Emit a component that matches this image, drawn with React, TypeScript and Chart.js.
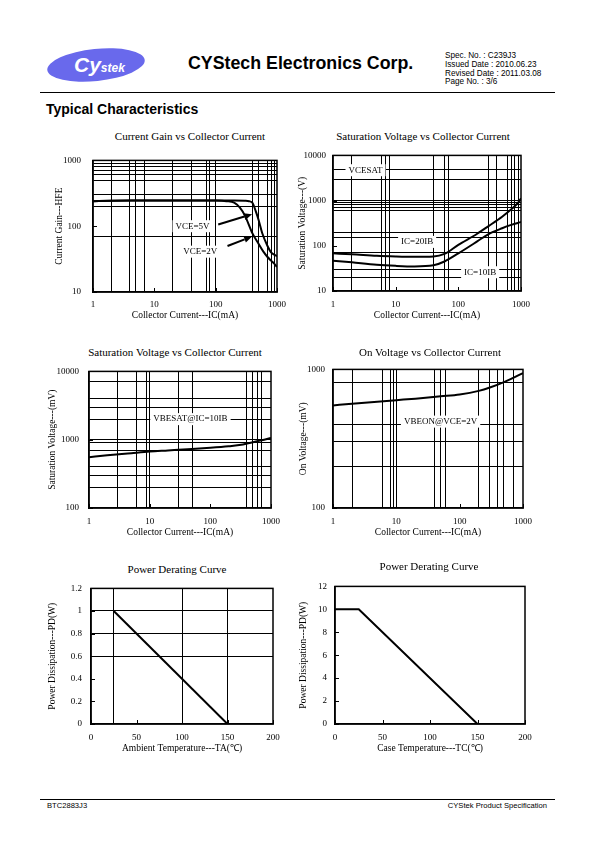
import React, { useEffect, useRef } from "react";
import { Chart, registerables } from "chart.js";

Chart.register(...registerables);

const SERIF = "'Liberation Serif', 'Times New Roman', serif";
const SANS = "'Liberation Sans', Arial, sans-serif";

// ---------------- data ----------------
// Chart 1: Current Gain vs Collector Current
const hfeIcVce5 = [1, 2, 5, 10, 20, 50, 100, 200, 300, 350, 400, 450, 500, 575, 700, 800, 900, 1000];
const hfeVce5 = [240, 243, 245, 246, 246, 246, 246, 246, 244, 240, 225, 169, 125, 78, 50, 40, 37, 35];
const hfeIcVce2 = [1, 2, 5, 10, 20, 50, 100, 150, 200, 250, 300, 400, 500, 600, 700, 800, 900, 1000];
const hfeVce2 = [240, 243, 245, 246, 246, 246, 245, 240, 228, 190, 145, 77, 54, 41, 34, 30, 27, 24];

// Chart 2: Saturation Voltage (VCESAT) vs Collector Current
const satIc20 = [1, 2, 5, 10, 20, 40, 60, 100, 200, 300, 500, 700, 800, 900, 1000];
const vceSat20 = [68, 65, 60, 58, 57, 58, 66, 105, 185, 270, 440, 640, 760, 900, 1130];
const satIc10 = [1, 2, 5, 10, 20, 40, 60, 100, 200, 300, 500, 700, 1000];
const vceSat10 = [47, 43, 38, 36, 35, 37, 45, 68, 125, 180, 245, 290, 335];

// Chart 3: VBESAT vs Collector Current
const vbeSatIc = [1, 2, 5, 10, 20, 50, 100, 200, 300, 500, 700, 1000];
const vbeSat = [555, 590, 635, 670, 695, 730, 760, 800, 835, 920, 980, 1060];

// Chart 4: VBEON vs Collector Current
const vbeOnIc = [1, 2, 5, 10, 20, 50, 100, 200, 300, 500, 700, 1000];
const vbeOn = [550, 565, 585, 600, 615, 640, 660, 700, 740, 810, 870, 940];

// Chart 5: Power derating (ambient)
const taTemp = [25, 150];
const taPower = [1, 0];

// Chart 6: Power derating (case)
const tcTemp = [0, 25, 150];
const tcPower = [10, 10, 0];

// tick labels
const icLabels = [1, 10, 100, 1000];
const hfeLabels = [10, 100, 1000];
const vceSatLabels = [10, 100, 1000, 10000];
const vbeSatLabels = [100, 1000, 10000];
const vbeOnLabels = [100, 1000];
const tempLabels = [0, 50, 100, 150, 200];
const paLabels = [0, 0.2, 0.4, 0.6, 0.8, 1, 1.2];
const pcLabels = [0, 2, 4, 6, 8, 10, 12];

// grid line positions
const grid1x = [2, 4, 5, 7, 20, 40, 70, 80, 100, 400, 500, 700, 800, 900];
const grid1y = [900, 800, 700, 600, 500, 300, 200, 70];
const grid2x = [2, 6, 7, 8, 40, 60, 70, 300, 400, 600, 700, 800, 900];
const grid2y = [5000, 3000, 1000, 900, 800, 700, 600, 200, 150, 70, 30, 20];
const grid3x = [3, 6, 9, 10, 30, 50, 400, 500, 600, 700];
const grid3y = [7000, 4000, 3000, 2000, 1000, 900, 700, 400, 300, 200];
const grid4x = [2, 6, 8, 9, 10, 40, 50, 60, 200, 300, 400, 500, 700];
const grid4y = [800, 400, 300, 200];
const grid5x = [25, 100, 150];
const grid5y = [1, 0.8, 0.6];
const noGrid: number[] = [];

// ---------------- types ----------------
type Box = { L: number; T: number; R: number; B: number };
type AxisSpec = {
  type: "logarithmic" | "linear";
  min: number;
  max: number;
  labels: number[];
  grid: number[];
  title: string;
};
type Note = { x: number; y: number; text: string };
type Arrow = { x1: number; y1: number; x2: number; y2: number };
type Series = { xs: number[]; ys: number[]; smooth: boolean };
type ChartProps = {
  box: Box;
  title: string;
  titleX: number;
  titleY: number;
  yTitleX: number;
  xTitleY: number;
  yTickRight: number;
  xTickTop: number;
  x: AxisSpec;
  y: AxisSpec;
  series: Series[];
  notes?: Note[];
  arrows?: Arrow[];
};

const AXIS_W = 50;
const AXIS_H = 35;
const PAD_T = 10;
const PAD_R = 15;
const TICK_FONT = 9;
const AXIS_TITLE_FONT = 9.5;
const CHART_TITLE_FONT = 11;

const near = (arr: number[], v: number) =>
  arr.some((a) => Math.abs(a - v) <= Math.abs(a) * 1e-6 + 1e-9);

function buildAxis(spec: AxisSpec, pos: "left" | "bottom", tickPad: number, titleOffset: number) {
  const lh = AXIS_TITLE_FONT * 1.2;
  const all = Array.from(new Set([...spec.labels, ...spec.grid, spec.min, spec.max])).sort(
    (a, b) => a - b
  );
  return {
    type: spec.type,
    position: pos,
    min: spec.min,
    max: spec.max,
    afterBuildTicks: (s: any) => {
      s.ticks = all.map((v) => ({ value: v }));
    },
    afterFit: (s: any) => {
      if (pos === "left") s.width = AXIS_W;
      else s.height = AXIS_H;
    },
    ticks: {
      autoSkip: false,
      maxRotation: 0,
      minRotation: 0,
      padding: tickPad,
      color: "#000",
      font: { family: SERIF, size: TICK_FONT },
      callback: (v: any) => (near(spec.labels, Number(v)) ? String(v) : ""),
    },
    grid: {
      color: (ctx: any) =>
        ctx.tick && near(spec.grid, ctx.tick.value) ? "#000" : "rgba(0,0,0,0)",
      lineWidth: 1,
      drawTicks: false,
    },
    border: { display: true, color: "#000", width: 1.5 },
    title: {
      display: true,
      text: spec.title,
      color: "#000",
      font: { family: SERIF, size: AXIS_TITLE_FONT },
      padding:
        pos === "left"
          ? { top: titleOffset - lh / 2, bottom: 0 }
          : { top: 0, bottom: titleOffset - lh / 2 },
    },
  };
}

function ChartBox(p: ChartProps) {
  const ref = useRef<HTMLCanvasElement>(null);
  const { L, T, R, B } = p.box;
  const cx = L - AXIS_W;
  const cy = T - PAD_T;
  const cw = R - L + AXIS_W + PAD_R;
  const ch = B - T + PAD_T + AXIS_H;

  useEffect(() => {
    const decor = {
      id: "decor",
      afterDatasetsDraw(chart: any) {
        const { ctx, chartArea: a, scales } = chart;
        const xs = scales.x;
        const ys = scales.y;
        ctx.save();
        ctx.strokeStyle = "#000";
        ctx.lineWidth = 1.5;
        ctx.strokeRect(a.left, a.top, a.right - a.left, a.bottom - a.top);
        // inner tick marks
        ctx.lineWidth = 1;
        ctx.beginPath();
        for (const v of p.x.labels) {
          const px = Math.round(xs.getPixelForValue(v)) + 0.5;
          ctx.moveTo(px, a.bottom);
          ctx.lineTo(px, a.bottom - 4);
        }
        for (const v of p.y.labels) {
          const py = Math.round(ys.getPixelForValue(v)) + 0.5;
          ctx.moveTo(a.left, py);
          ctx.lineTo(a.left + 4, py);
        }
        ctx.stroke();
        // arrows
        for (const ar of p.arrows || []) {
          const x1 = xs.getPixelForValue(ar.x1);
          const y1 = ys.getPixelForValue(ar.y1);
          const x2 = xs.getPixelForValue(ar.x2);
          const y2 = ys.getPixelForValue(ar.y2);
          const ang = Math.atan2(y2 - y1, x2 - x1);
          const hl = 8;
          const hw = 3.5;
          const bx = x2 - hl * Math.cos(ang);
          const by = y2 - hl * Math.sin(ang);
          ctx.lineWidth = 2;
          ctx.beginPath();
          ctx.moveTo(x1, y1);
          ctx.lineTo(bx, by);
          ctx.stroke();
          ctx.beginPath();
          ctx.moveTo(x2, y2);
          ctx.lineTo(bx + hw * Math.sin(ang), by - hw * Math.cos(ang));
          ctx.lineTo(bx - hw * Math.sin(ang), by + hw * Math.cos(ang));
          ctx.closePath();
          ctx.fillStyle = "#000";
          ctx.fill();
        }
        // notes
        ctx.font = `${TICK_FONT}px ${SERIF}`;
        ctx.textAlign = "center";
        ctx.textBaseline = "middle";
        for (const n of p.notes || []) {
          const px = xs.getPixelForValue(n.x);
          const py = ys.getPixelForValue(n.y);
          const w = ctx.measureText(n.text).width + 6;
          ctx.fillStyle = "#fff";
          ctx.fillRect(px - w / 2, py - 6, w, 12);
          ctx.fillStyle = "#000";
          ctx.fillText(n.text, px, py);
        }
        ctx.restore();
      },
    };

    const chart = new Chart(ref.current as HTMLCanvasElement, {
      type: "scatter",
      data: {
        datasets: p.series.map((s) => ({
          data: s.xs.map((x, i) => ({ x, y: s.ys[i] })),
          borderColor: "#000",
          backgroundColor: "#000",
          borderWidth: 2,
          pointRadius: 0,
          showLine: true,
          fill: false,
          cubicInterpolationMode: s.smooth ? "monotone" : "default",
          tension: 0,
        })),
      } as any,
      options: {
        responsive: false,
        maintainAspectRatio: false,
        animation: false,
        devicePixelRatio: 1,
        layout: { padding: { left: 0, top: PAD_T, right: PAD_R, bottom: 0 } },
        plugins: { legend: { display: false }, tooltip: { enabled: false } },
        scales: {
          x: buildAxis(p.x, "bottom", p.xTickTop - B, B + AXIS_H - p.xTitleY),
          y: buildAxis(p.y, "left", L - p.yTickRight, p.yTitleX - cx),
        } as any,
      } as any,
      plugins: [decor],
    });
    return () => chart.destroy();
  }, []);

  return (
    <>
      <div
        style={{
          position: "absolute",
          left: p.titleX,
          top: p.titleY,
          transform: "translate(-50%, -50%)",
          font: `${CHART_TITLE_FONT}px ${SERIF}`,
          whiteSpace: "nowrap",
          color: "#000",
        }}
      >
        {p.title}
      </div>
      <canvas
        ref={ref}
        width={cw}
        height={ch}
        style={{ position: "absolute", left: cx, top: cy, width: cw, height: ch }}
      />
    </>
  );
}

const IC_TITLE = "Collector Current---IC(mA)";

export default function App() {
  const abs = (s: React.CSSProperties): React.CSSProperties => ({ position: "absolute", ...s });
  return (
    <div
      style={{
        position: "absolute",
        left: 0,
        top: 0,
        width: 595,
        height: 842,
        background: "#fff",
        overflow: "hidden",
      }}
    >
      {/* logo */}
      <div
        style={abs({
          left: 47,
          top: 49,
          width: 98,
          height: 32,
          borderRadius: "50%",
          background: "#6969ec",
          transform: "rotate(-6deg)",
        })}
      />
      <div
        style={abs({
          left: 74,
          top: 53,
          color: "#fff",
          fontFamily: SANS,
          fontWeight: "bold",
          fontStyle: "italic",
          whiteSpace: "nowrap",
        })}
      >
        <span style={{ fontSize: 21 }}>Cy</span>
        <span style={{ fontSize: 12 }}>stek</span>
      </div>
      <div
        style={abs({
          left: 188,
          top: 53,
          fontFamily: SANS,
          fontWeight: "bold",
          fontSize: 17.8,
          whiteSpace: "nowrap",
        })}
      >
        CYStech Electronics Corp.
      </div>
      <div
        style={abs({
          left: 445,
          top: 52,
          fontFamily: SANS,
          fontSize: 8.2,
          lineHeight: "8.8px",
          whiteSpace: "nowrap",
        })}
      >
        <div>Spec. No. : C239J3</div>
        <div>Issued Date : 2010.06.23</div>
        <div>Revised Date : 2011.03.08</div>
        <div>Page No. : 3/6</div>
      </div>
      <div style={abs({ left: 40, top: 92, width: 515, height: 1, background: "#000" })} />
      <div
        style={abs({
          left: 46,
          top: 101,
          fontFamily: SANS,
          fontWeight: "bold",
          fontSize: 14,
          whiteSpace: "nowrap",
        })}
      >
        Typical Characteristics
      </div>

      <ChartBox
        box={{ L: 93, T: 153, R: 278, B: 292 }}
        title="Current Gain vs Collector Current"
        titleX={190}
        titleY={136}
        yTitleX={59}
        xTitleY={315}
        yTickRight={81}
        xTickTop={299}
        x={{ type: "logarithmic", min: 1, max: 1000, labels: icLabels, grid: grid1x, title: IC_TITLE }}
        y={{ type: "logarithmic", min: 10, max: 1000, labels: hfeLabels, grid: grid1y, title: "Current Gain---HFE" }}
        series={[
          { xs: hfeIcVce5, ys: hfeVce5, smooth: true },
          { xs: hfeIcVce2, ys: hfeVce2, smooth: true },
        ]}
        notes={[
          { x: 42, y: 100, text: "VCE=5V" },
          { x: 56, y: 41, text: "VCE=2V" },
        ]}
        arrows={[
          { x1: 110, y1: 106, x2: 392, y2: 152 },
          { x1: 156, y1: 50, x2: 392, y2: 70 },
        ]}
      />

      <ChartBox
        box={{ L: 333, T: 153, R: 523, B: 291 }}
        title="Saturation Voltage vs Collector Current"
        titleX={423}
        titleY={136}
        yTitleX={302}
        xTitleY={315}
        yTickRight={326}
        xTickTop={299}
        x={{ type: "logarithmic", min: 1, max: 1000, labels: icLabels, grid: grid2x, title: IC_TITLE }}
        y={{ type: "logarithmic", min: 10, max: 10000, labels: vceSatLabels, grid: grid2y, title: "Saturation Voltage---(V)" }}
        series={[
          { xs: satIc20, ys: vceSat20, smooth: true },
          { xs: satIc10, ys: vceSat10, smooth: true },
        ]}
        notes={[
          { x: 3.3, y: 4700, text: "VCESAT" },
          { x: 22, y: 122, text: "IC=20IB" },
          { x: 223, y: 26, text: "IC=10IB" },
        ]}
      />

      <ChartBox
        box={{ L: 89, T: 366, R: 273, B: 508 }}
        title="Saturation Voltage vs Collector Current"
        titleX={175}
        titleY={352}
        yTitleX={52}
        xTitleY={532}
        yTickRight={79}
        xTickTop={516}
        x={{ type: "logarithmic", min: 1, max: 1000, labels: icLabels, grid: grid3x, title: IC_TITLE }}
        y={{ type: "logarithmic", min: 100, max: 10000, labels: vbeSatLabels, grid: grid3y, title: "Saturation Voltage---(mV)" }}
        series={[{ xs: vbeSatIc, ys: vbeSat, smooth: true }]}
        notes={[{ x: 47, y: 2000, text: "VBESAT@IC=10IB" }]}
      />

      <ChartBox
        box={{ L: 333, T: 366, R: 525, B: 508 }}
        title="On Voltage vs Collector Current"
        titleX={430}
        titleY={352}
        yTitleX={303}
        xTitleY={532}
        yTickRight={325}
        xTickTop={516}
        x={{ type: "logarithmic", min: 1, max: 1000, labels: icLabels, grid: grid4x, title: IC_TITLE }}
        y={{ type: "logarithmic", min: 100, max: 1000, labels: vbeOnLabels, grid: grid4y, title: "On Voltage---(mV)" }}
        series={[{ xs: vbeOnIc, ys: vbeOn, smooth: true }]}
        notes={[{ x: 50, y: 420, text: "VBEON@VCE=2V" }]}
      />

      <ChartBox
        box={{ L: 91, T: 584, R: 273, B: 724 }}
        title="Power Derating Curve"
        titleX={177}
        titleY={569}
        yTitleX={52}
        xTitleY={748}
        yTickRight={82}
        xTickTop={732}
        x={{ type: "linear", min: 0, max: 200, labels: tempLabels, grid: grid5x, title: "Ambient Temperature---TA(℃)" }}
        y={{ type: "linear", min: 0, max: 1.2, labels: paLabels, grid: grid5y, title: "Power Dissipation---PD(W)" }}
        series={[{ xs: taTemp, ys: taPower, smooth: false }]}
      />

      <ChartBox
        box={{ L: 335, T: 583, R: 525, B: 724 }}
        title="Power Derating Curve"
        titleX={429}
        titleY={566}
        yTitleX={303}
        xTitleY={748}
        yTickRight={327}
        xTickTop={732}
        x={{ type: "linear", min: 0, max: 200, labels: tempLabels, grid: noGrid, title: "Case Temperature---TC(℃)" }}
        y={{ type: "linear", min: 0, max: 12, labels: pcLabels, grid: noGrid, title: "Power Dissipation---PD(W)" }}
        series={[{ xs: tcTemp, ys: tcPower, smooth: false }]}
      />

      <div style={abs({ left: 40, top: 799, width: 515, height: 1, background: "#000" })} />
      <div style={abs({ left: 47, top: 801, fontFamily: SANS, fontSize: 7.6, whiteSpace: "nowrap" })}>
        BTC2883J3
      </div>
      <div
        style={abs({
          right: 595 - 547,
          top: 801,
          fontFamily: SANS,
          fontSize: 7.6,
          whiteSpace: "nowrap",
        })}
      >
        CYStek Product Specification
      </div>
    </div>
  );
}
